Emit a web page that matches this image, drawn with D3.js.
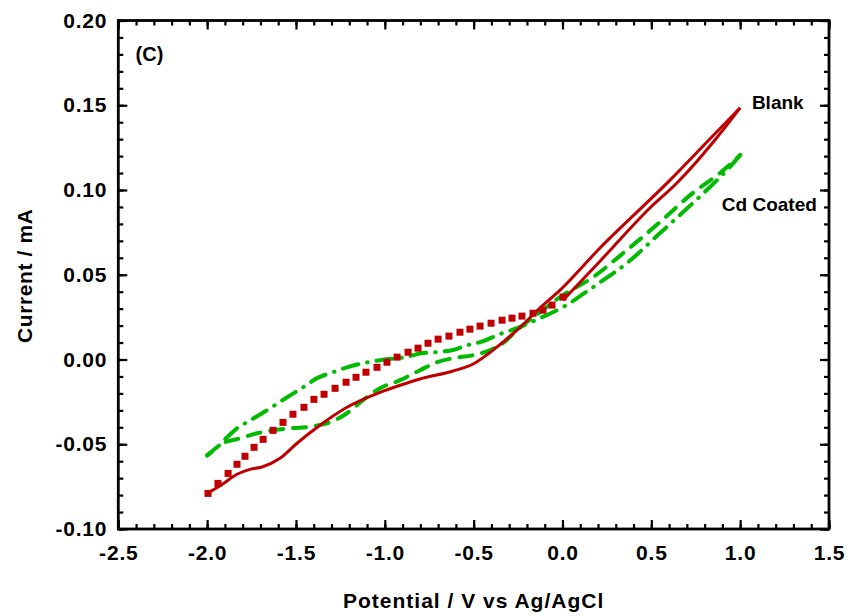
<!DOCTYPE html>
<html>
<head>
<meta charset="utf-8">
<script src="https://cdn.jsdelivr.net/npm/d3@7"></script>
<style>
  html, body { margin: 0; padding: 0; background: #fff; }
  svg { display: block; }
  text { font-family: "Liberation Sans", Arial, sans-serif; font-weight: bold; fill: #000; }
</style>
</head>
<body>
<div id="chart"></div>
<script>
// Data: [potential V, current mA]
const blankForward = [
  [-2.0, -0.079], [-1.916, -0.0737], [-1.832, -0.0677], [-1.759, -0.0648], [-1.691, -0.0634],
  [-1.59, -0.0583], [-1.494, -0.0494], [-1.365, -0.0388], [-1.213, -0.0282], [-1.027, -0.0194],
  [-0.914, -0.0152], [-0.802, -0.0115], [-0.616, -0.0068], [-0.5, -0.0025], [-0.391, 0.0055],
  [-0.256, 0.0173], [-0.127, 0.0303], [-0.014, 0.0409], [0.211, 0.0658], [0.605, 0.1058],
  [0.813, 0.1283], [1.0, 0.1485]
];
const blankReturn = [
  [1.0, 0.1485], [0.858, 0.1295], [0.644, 0.1041], [0.492, 0.0894], [0.211, 0.058], [0.003, 0.035]
];
const blankReturnPoints = [
  [0.003, 0.0368], [-0.059, 0.0321], [-0.11, 0.0291], [-0.166, 0.0273], [-0.228, 0.0256],
  [-0.284, 0.0244], [-0.34, 0.0232], [-0.402, 0.0214], [-0.464, 0.0197], [-0.521, 0.0179],
  [-0.577, 0.0161], [-0.639, 0.0138], [-0.7, 0.012], [-0.757, 0.0096], [-0.813, 0.0067],
  [-0.869, 0.0043], [-0.931, 0.0014], [-0.988, -0.0016], [-1.044, -0.0046], [-1.106, -0.0075],
  [-1.162, -0.0105], [-1.218, -0.0134], [-1.28, -0.017], [-1.342, -0.0205], [-1.399, -0.0235],
  [-1.455, -0.0282], [-1.517, -0.0323], [-1.573, -0.0371], [-1.629, -0.0418], [-1.685, -0.0471],
  [-1.736, -0.0518], [-1.787, -0.0571], [-1.832, -0.0618], [-1.882, -0.0672], [-1.939, -0.0731],
  [-1.995, -0.079]
];
const cdForward = [
  [-2.0, -0.0566], [-1.911, -0.0494], [-1.815, -0.0465], [-1.719, -0.0435], [-1.635, -0.0418],
  [-1.534, -0.0406], [-1.404, -0.0394], [-1.308, -0.037], [-1.213, -0.0317], [-1.123, -0.024],
  [-1.027, -0.0169], [-0.914, -0.0122], [-0.802, -0.0063], [-0.706, -0.0016], [-0.616, 0.0008],
  [-0.504, 0.0025], [-0.408, 0.0055], [-0.335, 0.0096], [-0.256, 0.0173], [-0.127, 0.0279],
  [-0.014, 0.0368], [0.172, 0.0486], [0.363, 0.0646], [0.549, 0.0811], [0.734, 0.0983],
  [0.886, 0.11], [1.0, 0.1206]
];
const cdReturn = [
  [1.0, 0.1206], [0.943, 0.1136], [0.83, 0.1018], [0.734, 0.0923], [0.549, 0.0746],
  [0.363, 0.0569], [0.172, 0.0427], [0.003, 0.0309], [-0.127, 0.0244], [-0.256, 0.0185],
  [-0.352, 0.015], [-0.464, 0.0102], [-0.537, 0.0084], [-0.616, 0.0056], [-0.689, 0.0045],
  [-0.802, 0.0035], [-0.875, 0.0016], [-1.027, -0.0004], [-1.123, -0.0022], [-1.213, -0.0046],
  [-1.291, -0.0075], [-1.381, -0.011], [-1.46, -0.0164], [-1.55, -0.0223], [-1.646, -0.0288],
  [-1.759, -0.036], [-1.832, -0.0406], [-1.888, -0.0459], [-1.944, -0.0518], [-2.0, -0.0566]
];

const xTicks = [-2.5, -2.0, -1.5, -1.0, -0.5, 0.0, 0.5, 1.0, 1.5];
const xTickLabels = ["-2.5", "-2.0", "-1.5", "-1.0", "-0.5", "0.0", "0.5", "1.0", "1.5"];
const yTicks = [-0.10, -0.05, 0.00, 0.05, 0.10, 0.15, 0.20];
const yTickLabels = ["-0.10", "-0.05", "0.00", "0.05", "0.10", "0.15", "0.20"];

const width = 851, height = 616;
const margin = { top: 20.5, right: 22, bottom: 87, left: 118.3 };
const iw = width - margin.left - margin.right;
const ih = height - margin.top - margin.bottom;

const red = "#c00000", green = "#00bb00";

const svg = d3.select('#chart').append('svg')
    .attr('width', width)
    .attr('height', height);

const g = svg.append('g').attr('transform', `translate(${margin.left},${margin.top})`);

const x = d3.scaleLinear().domain([-2.5, 1.5]).range([0, iw]);
const y = d3.scaleLinear().domain([-0.10, 0.20]).range([ih, 0]);

const xMinor = d3.range(-2.5, 1.5001, 0.1).map(v => +v.toFixed(2));
const yMinor = d3.range(-0.10, 0.2001, 0.01).map(v => +v.toFixed(3));

// Axes: ticks point inward on all four sides
function styleAxis(sel) {
    sel.select('.domain').remove();
    sel.selectAll('line').attr('stroke', '#000').attr('stroke-width', 2.2);
    sel.selectAll('text')
        .style('font-size', '21px')
        .style('letter-spacing', '0.8px');
}

g.append('g').attr('transform', `translate(0,${ih})`)
    .call(d3.axisBottom(x).tickValues(xMinor).tickSize(-5).tickFormat(''))
    .call(styleAxis);
g.append('g').attr('transform', `translate(0,${ih})`)
    .call(d3.axisBottom(x).tickValues(xTicks).tickSize(-9).tickPadding(16)
        .tickFormat((d, i) => xTickLabels[i]))
    .call(styleAxis);
g.append('g')
    .call(d3.axisTop(x).tickValues(xMinor).tickSize(-5).tickFormat(''))
    .call(styleAxis);
g.append('g')
    .call(d3.axisTop(x).tickValues(xTicks).tickSize(-9).tickFormat(''))
    .call(styleAxis);

g.append('g')
    .call(d3.axisLeft(y).tickValues(yMinor).tickSize(-5).tickFormat(''))
    .call(styleAxis);
g.append('g')
    .call(d3.axisLeft(y).tickValues(yTicks).tickSize(-9).tickPadding(11)
        .tickFormat((d, i) => yTickLabels[i]))
    .call(styleAxis);
g.append('g').attr('transform', `translate(${iw},0)`)
    .call(d3.axisRight(y).tickValues(yMinor).tickSize(-5).tickFormat(''))
    .call(styleAxis);
g.append('g').attr('transform', `translate(${iw},0)`)
    .call(d3.axisRight(y).tickValues(yTicks).tickSize(-9).tickFormat(''))
    .call(styleAxis);

// frame
g.append('rect')
    .attr('width', iw).attr('height', ih)
    .attr('fill', 'none').attr('stroke', '#000').attr('stroke-width', 2.8);

// curves
const line = d3.line().x(d => x(d[0])).y(d => y(d[1])).curve(d3.curveMonotoneX);

g.append('path').datum(cdForward)
    .attr('d', line).attr('fill', 'none')
    .attr('stroke', green).attr('stroke-width', 4)
    .attr('stroke-linecap', 'round')
    .attr('stroke-dasharray', '13,10');

g.append('path').datum(cdReturn)
    .attr('d', line).attr('fill', 'none')
    .attr('stroke', green).attr('stroke-width', 4)
    .attr('stroke-linecap', 'round')
    .attr('stroke-dasharray', '16,9,0.5,9');

g.append('path').datum(blankForward)
    .attr('d', line).attr('fill', 'none')
    .attr('stroke', red).attr('stroke-width', 3);

g.append('path').datum(blankReturn)
    .attr('d', line).attr('fill', 'none')
    .attr('stroke', red).attr('stroke-width', 3);

const sq = 7;
g.selectAll('.sq').data(blankReturnPoints).enter().append('rect')
    .attr('class', 'sq')
    .attr('x', d => x(d[0]) - sq / 2)
    .attr('y', d => y(d[1]) - sq / 2)
    .attr('width', sq).attr('height', sq)
    .attr('fill', red);

// labels
g.append('text').attr('x', x(-2.403)).attr('y', y(0.176))
    .style('font-size', '20px').text('(C)');
g.append('text').attr('x', x(1.066)).attr('y', y(0.1478))
    .style('font-size', '19px').text('Blank');
g.append('text').attr('x', x(0.897)).attr('y', y(0.0875))
    .style('font-size', '19px').text('Cd Coated');

svg.append('text')
    .attr('x', margin.left + iw / 2).attr('y', 608)
    .attr('text-anchor', 'middle')
    .style('font-size', '21px').style('letter-spacing', '1px')
    .text('Potential / V vs Ag/AgCl');

svg.append('text')
    .attr('transform', `translate(32,${margin.top + ih / 2 + 1}) rotate(-90)`)
    .attr('text-anchor', 'middle')
    .style('font-size', '21px').style('letter-spacing', '0.6px')
    .text('Current / mA');
</script>
</body>
</html>
